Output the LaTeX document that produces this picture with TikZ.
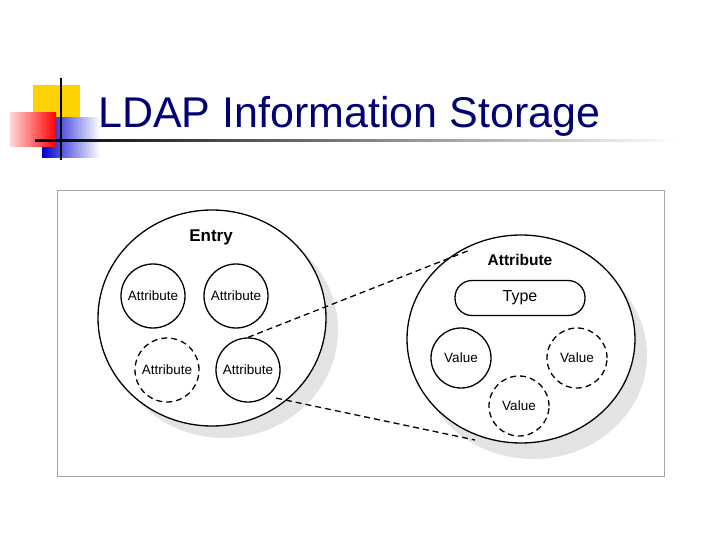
\documentclass[tikz,border=0pt]{standalone}
\usepackage{fontspec}
\setmainfont{Liberation Sans}
\begin{document}
\begin{tikzpicture}[x=1pt,y=-1pt,
 circ/.style={draw,line width=1.3pt,fill=white,circle,minimum size=64pt,inner sep=0pt,font=\fontsize{13.5}{15}\selectfont},
 dcirc/.style={circ,dash pattern=on 6pt off 4pt},
 big/.style={draw,line width=1.3pt,fill=white},
 dl/.style={line width=1.3pt,dash pattern=on 6pt off 4pt}]
\useasboundingbox (0,0) rectangle (720,540);
% logo
\fill[yellow!70!orange] (33,85) rectangle (80,120);
\shade[left color=blue!80!black,right color=white] (42,118) rectangle (100,158);
\shade[left color=red!15,right color=red] (10,113) rectangle (56,147);
\shade[left color=black,right color=white] (35,139.5) rectangle (680,142);
\draw[line width=2pt] (61,78) -- (61,160);
\node[anchor=base west,text=blue!45!black,font=\fontsize{43}{50}\selectfont,inner sep=0] (title) at (98,128) {LDAP Information Storage};
% frame
\draw[gray!70] (57,190) rectangle (664,476);
% entry
\fill[gray!22] (224,330) ellipse [x radius=114,y radius=108];
\draw[big] (212,318) ellipse [x radius=114,y radius=108];
\node[font=\bfseries\fontsize{17}{20}\selectfont] (entry) at (211,237) {Entry};
\node[circ] (a1) at (153,296) {Attribute};
\node[circ] (a2) at (236,296) {Attribute};
\node[dcirc] (a3) at (167,370) {Attribute};
\node[circ] (a4) at (248,370) {Attribute};
% attribute
\fill[gray!22] (533,355) ellipse [x radius=114,y radius=104];
\draw[big] (521,339) ellipse [x radius=114,y radius=104];
\coordinate (top) at (470,250);
\coordinate (bot) at (475,440);
\draw[dl] (a4.north) -- (top);
\draw[dl] (a4.south east) ++(5,5) coordinate (s) -- (bot);
\node[font=\bfseries\fontsize{15.5}{18}\selectfont] (attr) at (520,260) {Attribute};
\node[draw,line width=1.3pt,rounded corners=17pt,minimum width=130pt,minimum height=35pt,font=\fontsize{16}{18}\selectfont] (type) at (520,298) {Type};
\node[circ,minimum size=60pt] (v1) at (461,358) {Value};
\node[dcirc,minimum size=60pt] (v2) at (577,358) {Value};
\node[dcirc,minimum size=60pt] (v3) at (519,406) {Value};
\end{tikzpicture}
\end{document}
